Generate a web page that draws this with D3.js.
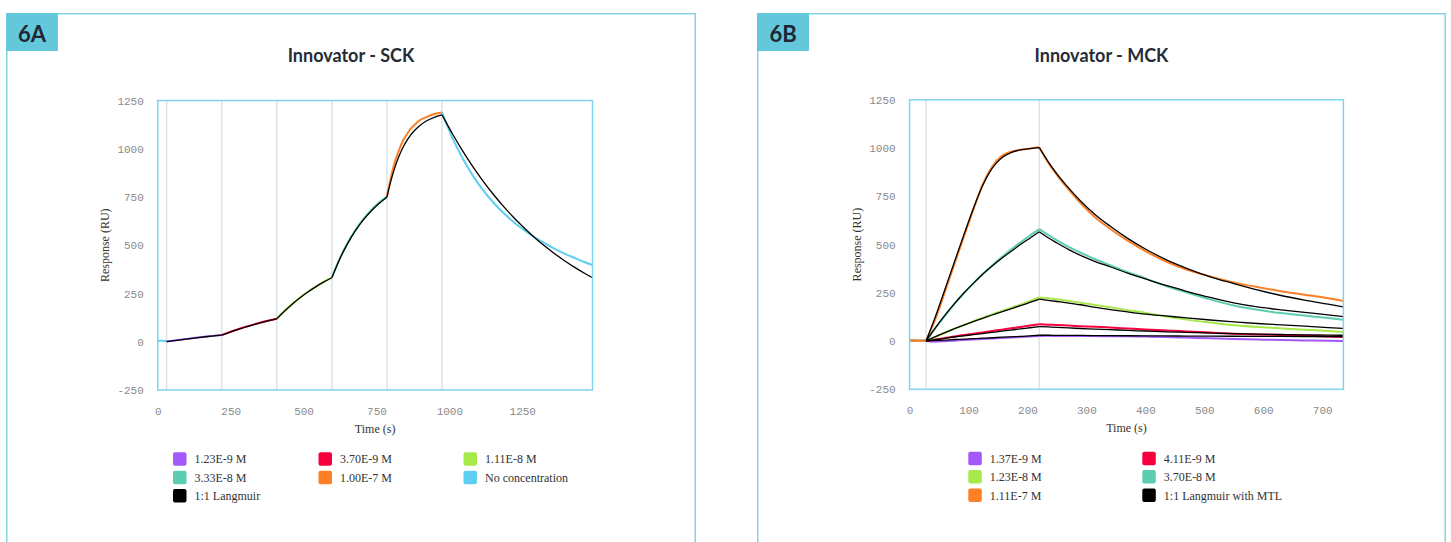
<!DOCTYPE html>
<html>
<head>
<meta charset="utf-8">
<script src="https://cdn.jsdelivr.net/npm/d3@7"></script>
<style>
  body { margin: 0; background: #fff; }
  svg { display: block; }
</style>
</head>
<body>
<svg id="chart" width="1451" height="542"></svg>
<script>
// ---------- Panel 6A : single-cycle kinetics (SCK) ----------
const yTicks = [-250, 0, 250, 500, 750, 1000, 1250];
const xTicksA = [0, 250, 500, 750, 1000, 1250];
const injectionsA = [30, 219, 408, 597, 786, 975];

// sample times for each phase
const tAbase = [0, 15, 30];
const tA1 = [30, 57, 84, 111, 138, 165, 192, 219];
const tA2 = [219, 246, 273, 300, 327, 354, 381, 408];
const tA3 = [408, 435, 462, 489, 516, 543, 570, 597];
const tA4 = [597, 624, 651, 678, 705, 732, 759, 786];
const tA5 = [786, 799.5, 813, 826.5, 840, 853.5, 867, 880.5, 894, 921, 948, 975];
const tAdiss = [975, 1010, 1045, 1080, 1115, 1150, 1185, 1220, 1255, 1290, 1325, 1360, 1395, 1430, 1465, 1490];

// measured responses (RU)
const purpleA = [1, 6.4, 12.2, 16.9, 22.0, 26.6, 30.6, 34.5];
const redA = [34.5, 49.9, 63.8, 76.9, 88.6, 99.9, 110.1, 119.6];
const greenA = [119.6, 160.4, 197.5, 230.4, 260.1, 286.9, 311.4, 333.2];
const tealA = [333.2, 431.0, 511.6, 578.9, 634.9, 681.7, 721.0, 754.0];
const orangeA = [754, 851, 931, 989, 1039, 1073, 1103, 1123, 1143, 1164, 1180, 1188];
const cyanAbase = [5, 5, 4];
const cyanAdiss = [1188, 1058, 952, 862, 787, 723, 668, 621, 580, 543, 512, 483, 457, 434, 412, 398];

// 1:1 Langmuir fit (RU)
const fitA1 = [1, 5.9, 11.5, 16.6, 21.4, 25.9, 30.1, 34.0];
const fitA2 = [34.0, 49.1, 63.1, 76.1, 88.0, 99.1, 109.4, 118.8];
const fitA3 = [118.8, 159.5, 196.2, 229.2, 258.9, 285.7, 309.9, 331.6];
const fitA4 = [331.6, 428.1, 508.5, 575.5, 631.3, 677.8, 716.5, 748.8];
const fitA5 = [748.8, 833.5, 902.3, 958.2, 1003.5, 1040.5, 1070.4, 1094.7, 1114.5, 1143.6, 1162.8, 1175.5];
const fitAdiss = [1175.5, 1078.9, 990.2, 908.8, 834.1, 765.5, 702.6, 644.9, 591.9, 543.2, 498.6, 457.6, 420.0, 385.5, 353.8, 332.9];

const legendA = ["1.23E-9 M", "3.70E-9 M", "1.11E-8 M", "3.33E-8 M", "1.00E-7 M", "No concentration", "1:1 Langmuir"];

// ---------- Panel 6B : multi-cycle kinetics (MCK) ----------
const xTicksB = [0, 100, 200, 300, 400, 500, 600, 700];
const injectionsB = [28, 220];

const tBbase = [0, 14, 28];
const tBassoc = [28, 44, 60, 76, 92, 108, 124, 140, 156, 172, 188, 204, 220];
const tBdiss = [220, 235, 250, 270, 290, 315, 340, 370, 400, 435, 470, 510, 550, 590, 630, 670, 710, 736];

const baseB = [3, 2, 1];

const purpleBassoc = [0, -3, -1, 2, 5, 8, 11, 13, 16, 18, 21, 23, 26];
const purpleBdiss = [26, 27, 26, 26, 26, 26, 25, 25, 23, 21, 18, 14, 11, 8, 5, 3, 1, 0];
const redBassoc = [0, 8, 16, 23, 31, 38, 45, 52, 59, 66, 73, 80, 87];
const redBdiss = [87, 85, 83, 80, 77, 74, 70, 65, 60, 55, 50, 44, 38, 34, 31, 27, 23, 21];
const greenBassoc = [0, 22, 43, 63, 83, 102, 120, 138, 155, 172, 189, 207, 226];
const greenBdiss = [226, 222, 216, 208, 199, 187, 175, 160, 146, 127, 111, 96, 82, 73, 66, 59, 52, 47];
const tealBassoc = [0, 68, 131, 191, 247, 298, 347, 392, 434, 474, 511, 546, 580];
const tealBdiss = [580, 550, 522, 488, 458, 424, 393, 357, 325, 285, 252, 216, 184, 162, 145, 132, 119, 110];
const orangeBassoc = [2, 116, 256, 398, 540, 680, 812, 903, 958, 981, 991, 997, 1004];
const orangeBdiss = [1004, 925, 860, 785, 715, 640, 582, 520, 466, 412, 370, 335, 304, 280, 258, 240, 222, 208];

// 1:1 Langmuir with mass transport limitation fits
const fitPurpleBassoc = [0, 3, 5, 8, 10, 13, 15, 17, 20, 22, 24, 27, 30];
const fitPurpleBdiss = [30, 30, 29.5, 29, 29, 28.5, 28, 27.5, 27, 26.5, 26, 25.5, 25, 24.5, 24, 23.5, 23, 23];
const fitRedBassoc = [0, 7, 14, 21, 27, 33, 39, 45, 51, 57, 63, 69, 75];
const fitRedBdiss = [75, 73, 71, 68, 65, 62, 59, 55, 52, 48, 45, 41, 38, 36, 34, 32, 31, 30];
const fitGreenBassoc = [0, 23, 44, 64, 83, 101, 118, 135, 151, 167, 183, 200, 217];
const fitGreenBdiss = [217, 211, 205, 197, 188, 174, 163, 151, 140, 130, 120, 109, 99, 91, 84, 77, 70, 65];
const fitTealBassoc = [0, 70, 134, 194, 249, 299, 346, 389, 428, 464, 500, 533, 566];
const fitTealBdiss = [566, 535, 508, 474, 444, 412, 385, 352, 322, 288, 258, 226, 198, 177, 162, 149, 136, 127];
const fitOrangeBassoc = [0, 128, 268, 410, 550, 686, 806, 895, 948, 976, 990, 997, 1002];
const fitOrangeBdiss = [1002, 930, 866, 792, 726, 655, 596, 532, 477, 422, 377, 333, 298, 265, 236, 212, 191, 177];

const legendB = ["1.37E-9 M", "4.11E-9 M", "1.23E-8 M", "3.70E-8 M", "1.11E-7 M", "1:1 Langmuir with MTL"];

// ---------- colours ----------
const C = {
  purple: "#a259f7",
  red: "#f7003e",
  green: "#a7e84b",
  teal: "#5ccdb0",
  orange: "#fd7f26",
  cyan: "#5dcff0",
  black: "#000000"
};
const FRAME = "#86d3e4";
const TAB = "#64c8dc";
const PLOT_BORDER = "#7fd4f0";
const GUIDE = "#dde3ea";

const svg = d3.select("#chart");

function zip(t, v) { return t.map((d, i) => [d, v[i]]); }

function drawPanel(p) {
  const g = svg.append("g");

  // outer frame and tab
  g.append("rect")
    .attr("x", p.frame[0] + 0.75).attr("y", 13.75)
    .attr("width", p.frame[1] - p.frame[0] - 1.5).attr("height", 620)
    .attr("fill", "none").attr("stroke", FRAME).attr("stroke-width", 1.5);
  g.append("rect")
    .attr("x", p.frame[0]).attr("y", 13).attr("width", 52).attr("height", 38)
    .attr("fill", TAB);
  g.append("text")
    .attr("x", p.frame[0] + 26).attr("y", 41.5)
    .attr("text-anchor", "middle")
    .attr("font-family", "Lato, 'Open Sans', sans-serif")
    .attr("font-weight", 700).attr("font-size", 22).attr("fill", "#1e2733")
    .text(p.tag);

  // title
  g.append("text")
    .attr("x", (p.frame[0] + p.frame[1]) / 2).attr("y", 62)
    .attr("text-anchor", "middle")
    .attr("font-family", "Lato, 'Open Sans', sans-serif")
    .attr("font-weight", 700).attr("font-size", 18).attr("fill", "#262b36")
    .text(p.title);

  const x = d3.scaleLinear().domain(p.xDomain).range([p.left, p.right]);
  const y = d3.scaleLinear().domain([-250, 1250]).range([p.bottom, p.top]);

  // injection guide lines
  g.selectAll("line.guide").data(p.injections).join("line")
    .attr("class", "guide")
    .attr("x1", d => x(d)).attr("x2", d => x(d))
    .attr("y1", p.top).attr("y2", p.bottom)
    .attr("stroke", GUIDE).attr("stroke-width", 1.5);

  // axes (labels only)
  const yAxis = g.append("g").attr("transform", `translate(${p.left},0)`)
    .call(d3.axisLeft(y).tickValues(yTicks).tickSize(0).tickPadding(14).tickFormat(d => String(d)));
  const xAxis = g.append("g").attr("transform", `translate(0,${p.bottom})`)
    .call(d3.axisBottom(x).tickValues(p.xTicks).tickSize(0).tickPadding(17).tickFormat(d => String(d)));
  [yAxis, xAxis].forEach(a => {
    a.select(".domain").remove();
    a.selectAll("text")
      .attr("font-family", "'Liberation Mono', 'DejaVu Sans Mono', monospace")
      .attr("font-size", 11).attr("fill", "#8a8a8a");
  });

  g.append("text")
    .attr("x", (p.left + p.right) / 2).attr("y", p.bottom + 43)
    .attr("text-anchor", "middle")
    .attr("font-family", "'Liberation Serif', serif").attr("font-size", 12).attr("fill", "#333")
    .text("Time (s)");
  g.append("text")
    .attr("transform", `translate(${p.left - 49},${(p.top + p.bottom) / 2}) rotate(-90)`)
    .attr("text-anchor", "middle")
    .attr("font-family", "'Liberation Serif', serif").attr("font-size", 12).attr("fill", "#333")
    .text("Response (RU)");

  // curves
  const clipId = "clip-" + p.tag;
  g.append("clipPath").attr("id", clipId).append("rect")
    .attr("x", p.left).attr("y", p.top)
    .attr("width", p.right - p.left).attr("height", p.bottom - p.top);
  const plot = g.append("g").attr("clip-path", `url(#${clipId})`);
  const line = d3.line().x(d => x(d[0])).y(d => y(d[1])).curve(d3.curveMonotoneX);

  p.segments.forEach(s => {
    plot.append("path")
      .datum(zip(s.t, s.v))
      .attr("d", line)
      .attr("fill", "none")
      .attr("stroke", s.color)
      .attr("stroke-width", s.color === C.black ? 1.3 : 2)
      .attr("stroke-linejoin", "round");
  });

  // plot border
  g.append("rect")
    .attr("x", p.left).attr("y", p.top)
    .attr("width", p.right - p.left).attr("height", p.bottom - p.top)
    .attr("fill", "none").attr("stroke", PLOT_BORDER).attr("stroke-width", 1.5);

  // legend
  const lg = g.append("g");
  p.legend.forEach((item, i) => {
    const col = i % p.legendCols.length;
    const row = Math.floor(i / p.legendCols.length);
    const lx = p.legendCols[col];
    const ly = p.legendTop + row * 18.4;
    lg.append("rect")
      .attr("x", lx).attr("y", ly).attr("width", 13.5).attr("height", 13.5)
      .attr("rx", 2).attr("fill", item.color);
    lg.append("text")
      .attr("x", lx + 21.5).attr("y", ly + 11)
      .attr("font-family", "'Liberation Serif', serif").attr("font-size", 12).attr("fill", "#333")
      .text(item.name);
  });
}

// ---------- Panel A ----------
drawPanel({
  tag: "6A",
  title: "Innovator - SCK",
  frame: [6, 696],
  left: 157.8, right: 592.5, top: 100.5, bottom: 390,
  xDomain: [0, 1491],
  xTicks: xTicksA,
  injections: injectionsA,
  segments: [
    { t: tAbase, v: cyanAbase, color: C.cyan },
    { t: tA1, v: purpleA, color: C.purple },
    { t: tA2, v: redA, color: C.red },
    { t: tA3, v: greenA, color: C.green },
    { t: tA4, v: tealA, color: C.teal },
    { t: tA5, v: orangeA, color: C.orange },
    { t: tAdiss, v: cyanAdiss, color: C.cyan },
    { t: tA1, v: fitA1, color: C.black },
    { t: tA2, v: fitA2, color: C.black },
    { t: tA3, v: fitA3, color: C.black },
    { t: tA4, v: fitA4, color: C.black },
    { t: tA5, v: fitA5, color: C.black },
    { t: tAdiss, v: fitAdiss, color: C.black }
  ],
  legend: [
    { name: legendA[0], color: C.purple },
    { name: legendA[1], color: C.red },
    { name: legendA[2], color: C.green },
    { name: legendA[3], color: C.teal },
    { name: legendA[4], color: C.orange },
    { name: legendA[5], color: C.cyan },
    { name: legendA[6], color: C.black }
  ],
  legendCols: [173, 318.5, 463.5],
  legendTop: 452.3
});

// ---------- Panel B ----------
drawPanel({
  tag: "6B",
  title: "Innovator - MCK",
  frame: [757, 1446],
  left: 909.6, right: 1343.4, top: 99.8, bottom: 389.3,
  xDomain: [0, 736],
  xTicks: xTicksB,
  injections: injectionsB,
  segments: [
    { t: tBbase, v: baseB, color: C.purple },
    { t: tBassoc, v: purpleBassoc, color: C.purple },
    { t: tBdiss, v: purpleBdiss, color: C.purple },
    { t: tBbase, v: baseB, color: C.red },
    { t: tBassoc, v: redBassoc, color: C.red },
    { t: tBdiss, v: redBdiss, color: C.red },
    { t: tBbase, v: baseB, color: C.green },
    { t: tBassoc, v: greenBassoc, color: C.green },
    { t: tBdiss, v: greenBdiss, color: C.green },
    { t: tBbase, v: baseB, color: C.teal },
    { t: tBassoc, v: tealBassoc, color: C.teal },
    { t: tBdiss, v: tealBdiss, color: C.teal },
    { t: tBbase, v: baseB, color: C.orange },
    { t: tBassoc, v: orangeBassoc, color: C.orange },
    { t: tBdiss, v: orangeBdiss, color: C.orange },
    { t: tBassoc, v: fitPurpleBassoc, color: C.black },
    { t: tBdiss, v: fitPurpleBdiss, color: C.black },
    { t: tBassoc, v: fitRedBassoc, color: C.black },
    { t: tBdiss, v: fitRedBdiss, color: C.black },
    { t: tBassoc, v: fitGreenBassoc, color: C.black },
    { t: tBdiss, v: fitGreenBdiss, color: C.black },
    { t: tBassoc, v: fitTealBassoc, color: C.black },
    { t: tBdiss, v: fitTealBdiss, color: C.black },
    { t: tBassoc, v: fitOrangeBassoc, color: C.black },
    { t: tBdiss, v: fitOrangeBdiss, color: C.black }
  ],
  legend: [
    { name: legendB[0], color: C.purple },
    { name: legendB[1], color: C.red },
    { name: legendB[2], color: C.green },
    { name: legendB[3], color: C.teal },
    { name: legendB[4], color: C.orange },
    { name: legendB[5], color: C.black }
  ],
  legendCols: [968.3, 1142.3],
  legendTop: 451.7
});
</script>
</body>
</html>
